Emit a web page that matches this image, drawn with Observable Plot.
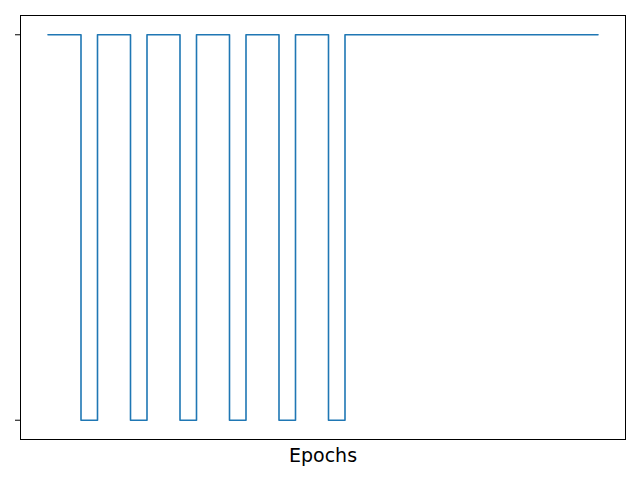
<!DOCTYPE html>
<html>
<head>
<meta charset="utf-8">
<script src="https://cdn.jsdelivr.net/npm/d3@7"></script>
<script src="https://cdn.jsdelivr.net/npm/@observablehq/plot@0.6"></script>
<style>
  html, body { margin: 0; padding: 0; background: #fff; }
</style>
</head>
<body>
<div id="chart"></div>
<script>
// Change points of the step series (epoch where a new level starts)
const epochs = [0, 6, 9, 15, 18, 24, 27, 33, 36, 42, 45, 51, 54, 100];
const levels = [1, 0, 1, 0, 1, 0, 1, 0, 1, 0, 1, 0, 1, 1];
const yTicks = [0, 1];
const xLabel = "Epochs";

const data = epochs.map((e, i) => ({epoch: e, level: levels[i]}));

const chart = Plot.plot({
  width: 640,
  height: 480,
  marginLeft: 20,
  marginRight: 15,
  marginTop: 15,
  marginBottom: 41,
  style: {fontFamily: "DejaVu Sans", background: "#fff"},
  x: {domain: [-5, 105], axis: null},
  y: {domain: [-0.05, 1.05], axis: null},
  marks: [
    Plot.line(data, {x: "epoch", y: "level", curve: "step-after", stroke: "#1f77b4", strokeWidth: 1.6}),
    Plot.axisY({ticks: yTicks, tickFormat: () => "", tickSize: 5, label: null, stroke: "#000"}),
    Plot.frame({stroke: "#000", strokeWidth: 1}),
    Plot.text([xLabel], {frameAnchor: "bottom", dy: 16, lineAnchor: "middle", fontSize: 19, fill: "#000", text: d => d})
  ]
});
document.getElementById("chart").appendChild(chart);
</script>
</body>
</html>
